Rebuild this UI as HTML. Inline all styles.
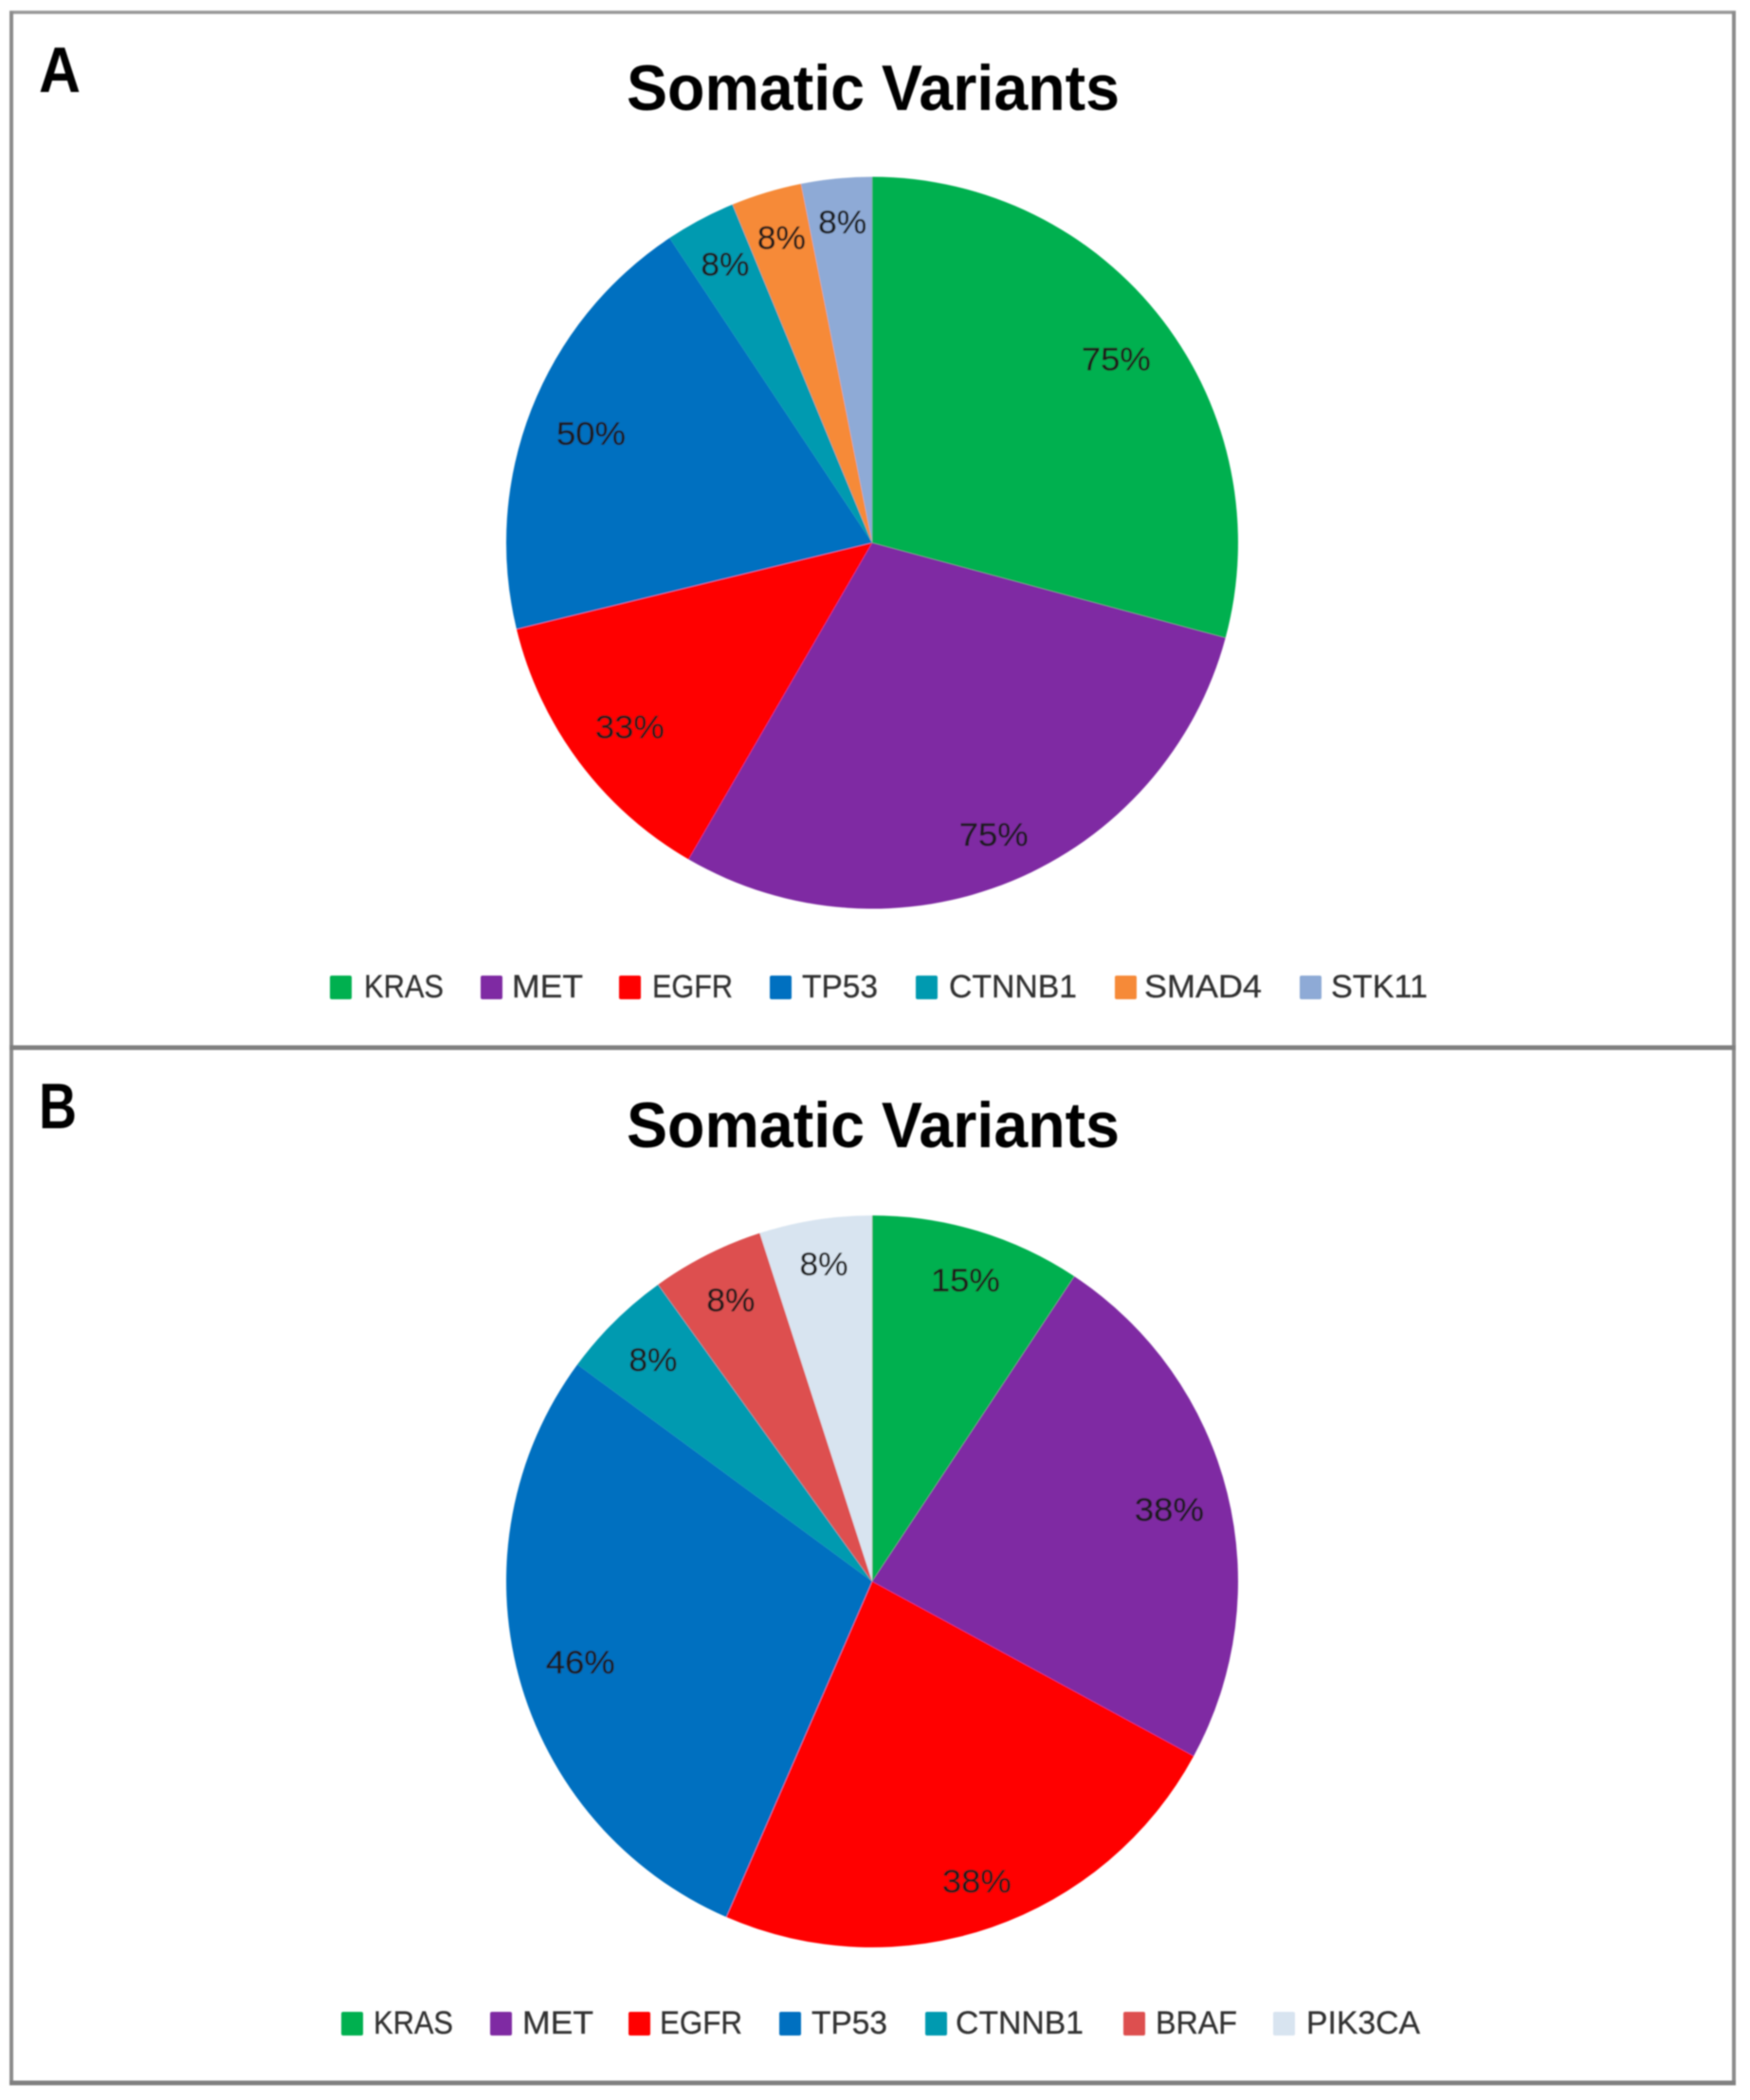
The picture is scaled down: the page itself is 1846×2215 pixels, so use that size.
<!DOCTYPE html>
<html lang="en">
<head>
<meta charset="utf-8">
<title>Somatic Variants</title>
<style>
html,body{margin:0;padding:0;background:#fff;width:1846px;height:2215px;overflow:hidden}
svg{display:block}
text{font-family:"Liberation Sans",sans-serif}
.title,.letter{font-weight:bold;fill:#000}
.title{font-size:68px}
.letter{font-size:68px}
.leg{font-size:34px;fill:#333;stroke:#333;stroke-width:.3}
.pct{font-size:34px;fill:#1c1c1c;stroke:#1c1c1c;stroke-width:.3}
.soft{filter:url(#soft)}
</style>
</head>
<body>
<svg id="figure" width="1846" height="2215" viewBox="0 0 1846 2215" xmlns="http://www.w3.org/2000/svg">
<defs><filter id="soft" x="-5%" y="-5%" width="110%" height="110%"><feGaussianBlur stdDeviation="0.8"/></filter></defs>
<rect width="1846" height="2215" fill="#fff"/>
<g class="soft" fill="none">
<line x1="10" y1="13" x2="1831" y2="13" stroke="#999" stroke-width="3.5"/>
<line x1="12" y1="12" x2="12" y2="2199" stroke="#8c8c8c" stroke-width="4"/>
<line x1="1829" y1="12" x2="1829" y2="2199" stroke="#8c8c8c" stroke-width="4"/>
<line x1="10" y1="1105" x2="1831" y2="1105" stroke="#808080" stroke-width="5"/>
<line x1="10" y1="2197" x2="1831" y2="2197" stroke="#808080" stroke-width="5"/>
</g>

<g class="soft">
<text class="letter" x="41" y="97" textLength="44" lengthAdjust="spacingAndGlyphs">A</text>
<text class="title" x="661" y="116" textLength="520" lengthAdjust="spacingAndGlyphs">Somatic Variants</text>
<g id="pie-a"></g>
<g>
<rect x="348" y="1029" width="23" height="25" rx="2" fill="#00b050"/>
<text class="leg" x="384" y="1052" textLength="84" lengthAdjust="spacingAndGlyphs">KRAS</text>
<rect x="507" y="1029" width="23" height="25" rx="2" fill="#7f2ca3"/>
<text class="leg" x="540" y="1052" textLength="75" lengthAdjust="spacingAndGlyphs">MET</text>
<rect x="653" y="1029" width="23" height="25" rx="2" fill="#ff0000"/>
<text class="leg" x="688" y="1052" textLength="85" lengthAdjust="spacingAndGlyphs">EGFR</text>
<rect x="812" y="1029" width="23" height="25" rx="2" fill="#0070c0"/>
<text class="leg" x="846" y="1052" textLength="80" lengthAdjust="spacingAndGlyphs">TP53</text>
<rect x="966" y="1029" width="23" height="25" rx="2" fill="#009ab0"/>
<text class="leg" x="1001" y="1052" textLength="135" lengthAdjust="spacingAndGlyphs">CTNNB1</text>
<rect x="1176" y="1029" width="23" height="25" rx="2" fill="#f68a37"/>
<text class="leg" x="1207" y="1052" textLength="124" lengthAdjust="spacingAndGlyphs">SMAD4</text>
<rect x="1371" y="1029" width="23" height="25" rx="2" fill="#8eaad6"/>
<text class="leg" x="1404" y="1052" textLength="102" lengthAdjust="spacingAndGlyphs">STK11</text>
</g>
</g>

<g class="soft">
<text class="letter" x="41" y="1190" textLength="40" lengthAdjust="spacingAndGlyphs">B</text>
<text class="title" x="661" y="1210" textLength="520" lengthAdjust="spacingAndGlyphs">Somatic Variants</text>
<g id="pie-b"></g>
<g>
<rect x="360" y="2122" width="23" height="25" rx="2" fill="#00b050"/>
<text class="leg" x="394" y="2145" textLength="84" lengthAdjust="spacingAndGlyphs">KRAS</text>
<rect x="517" y="2122" width="23" height="25" rx="2" fill="#7f2ca3"/>
<text class="leg" x="551" y="2145" textLength="75" lengthAdjust="spacingAndGlyphs">MET</text>
<rect x="663" y="2122" width="23" height="25" rx="2" fill="#ff0000"/>
<text class="leg" x="696" y="2145" textLength="87" lengthAdjust="spacingAndGlyphs">EGFR</text>
<rect x="822" y="2122" width="23" height="25" rx="2" fill="#0070c0"/>
<text class="leg" x="856" y="2145" textLength="80" lengthAdjust="spacingAndGlyphs">TP53</text>
<rect x="976" y="2122" width="23" height="25" rx="2" fill="#009ab0"/>
<text class="leg" x="1008" y="2145" textLength="135" lengthAdjust="spacingAndGlyphs">CTNNB1</text>
<rect x="1185" y="2122" width="23" height="25" rx="2" fill="#dd5050"/>
<text class="leg" x="1219" y="2145" textLength="86" lengthAdjust="spacingAndGlyphs">BRAF</text>
<rect x="1343" y="2122" width="23" height="25" rx="2" fill="#d8e4f0"/>
<text class="leg" x="1378" y="2145" textLength="120" lengthAdjust="spacingAndGlyphs">PIK3CA</text>
</g>
</g>
</svg>
<script>
var categoriesA = ["KRAS", "MET", "EGFR", "TP53", "CTNNB1", "SMAD4", "STK11"];
var valuesA = [75, 75, 33, 50, 8, 8, 8];
var categoriesB = ["KRAS", "MET", "EGFR", "TP53", "CTNNB1", "BRAF", "PIK3CA"];
var valuesB = [15, 38, 38, 46, 8, 8, 8];

var geneColor = {
  KRAS: "#00b050", MET: "#7f2ca3", EGFR: "#ff0000", TP53: "#0070c0",
  CTNNB1: "#009ab0", SMAD4: "#f68a37", STK11: "#8eaad6", BRAF: "#dd5050", PIK3CA: "#d8e4f0"
};
var SVG_NS = "http://www.w3.org/2000/svg";
var RADIUS = 386, CENTER_X = 920, LABEL_REACH = 360;

function angleScale(values) {
  var total = values.reduce(function (a, b) { return a + b; }, 0);
  return function (v) { return v / total * Math.PI * 2; };
}
function polar(cx, cy, r, a) {
  return [cx + r * Math.sin(a), cy - r * Math.cos(a)];
}
/* Push a label box along its mid-angle ray until its far corner reaches LABEL_REACH. */
function labelCentre(cx, cy, mid, hw, hh) {
  var sx = Math.abs(Math.sin(mid)), sy = Math.abs(Math.cos(mid));
  var b = sx * hw + sy * hh;
  var t = -b + Math.sqrt(b * b - (hw * hw + hh * hh - LABEL_REACH * LABEL_REACH));
  return polar(cx, cy, t, mid);
}
function drawPie(groupId, categories, values, cy) {
  var group = document.getElementById(groupId);
  var toAngle = angleScale(values);
  var start = 0;
  var labels = [];
  values.forEach(function (v, i) {
    var sweep = toAngle(v);
    var end = start + sweep;
    var p0 = polar(CENTER_X, cy, RADIUS, start);
    var p1 = polar(CENTER_X, cy, RADIUS, end);
    var slice = document.createElementNS(SVG_NS, "path");
    slice.setAttribute("d", "M" + CENTER_X + " " + cy + "L" + p0[0] + " " + p0[1] +
      "A" + RADIUS + " " + RADIUS + " 0 " + (sweep > Math.PI ? 1 : 0) + " 1 " + p1[0] + " " + p1[1] + "Z");
    slice.setAttribute("fill", geneColor[categories[i]]);
    
    
    group.appendChild(slice);

    var str = v + "%";
    var w = str.length > 2 ? 73 : 51;
    var c = labelCentre(CENTER_X, cy, start + sweep / 2, w / 2, 15);
    var t = document.createElementNS(SVG_NS, "text");
    t.setAttribute("class", "pct");
    t.setAttribute("x", c[0] - w / 2 + 2);
    t.setAttribute("y", c[1] + 13.5);
    t.setAttribute("textLength", w);
    t.setAttribute("lengthAdjust", "spacingAndGlyphs");
    
    
    t.textContent = str;
    labels.push(t);
    start = end;
  });
  labels.forEach(function (t) { group.appendChild(t); });
}
drawPie("pie-a", categoriesA, valuesA, 572.5);
drawPie("pie-b", categoriesB, valuesB, 1668);
</script>
</body>
</html>
